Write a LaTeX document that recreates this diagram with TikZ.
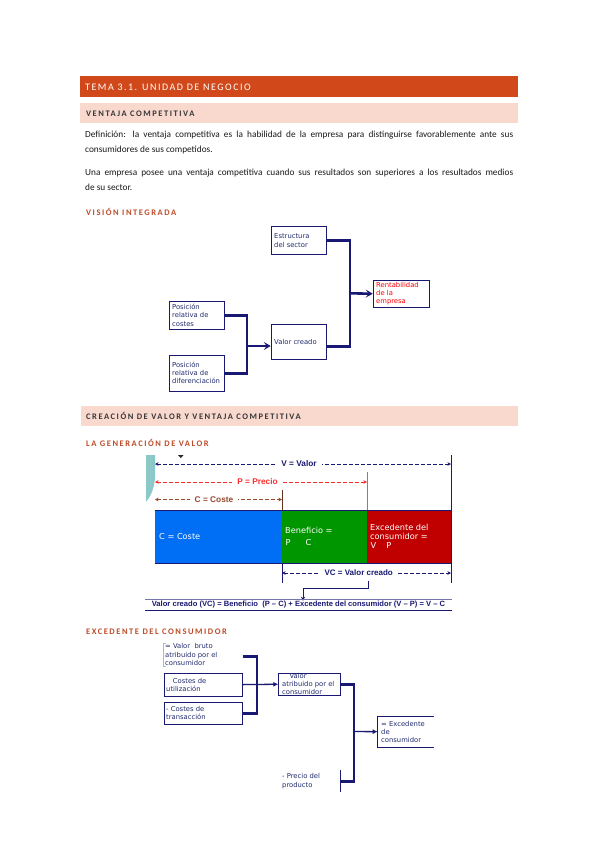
\documentclass[tikz,border=0pt]{standalone}
\usepackage{fontspec}
\setmainfont{Carlito}
\newfontfamily\hdfont[LetterSpace=18]{Carlito}
\newfontfamily\ttlfont[LetterSpace=15]{Carlito}
\newfontfamily\verd{DejaVu Sans}
\newfontfamily\arl{Liberation Sans}
\usetikzlibrary{arrows.meta}
\definecolor{titlebar}{RGB}{209,73,26}
\definecolor{pinkbar}{RGB}{249,216,206}
\definecolor{headc}{RGB}{190,75,40}
\definecolor{navy}{RGB}{25,25,115}
\definecolor{dtext}{RGB}{35,45,110}
\definecolor{boxblue}{RGB}{0,110,245}
\definecolor{boxgreen}{RGB}{0,150,0}
\definecolor{boxred}{RGB}{192,0,0}
\definecolor{brownc}{RGB}{150,72,42}
\definecolor{browndk}{RGB}{100,50,30}
\definecolor{redc}{RGB}{250,45,45}
\definecolor{tealc}{RGB}{140,200,200}
\definecolor{bodyc}{RGB}{25,25,25}
\definecolor{subc}{RGB}{55,55,55}
\tikzset{
  tl/.style={anchor=base west, inner sep=0pt},
  bar/.style={anchor=north west, inner sep=0pt, minimum width=438pt, minimum height=20pt},
  dbox/.style={anchor=north west, draw=navy, line width=0.8pt, inner sep=0pt},
  nobox/.style={anchor=north west, inner sep=0pt},
  dtxt/.style={tl, font=\verd\fontsize{6.8}{8}\selectfont, text=dtext},
  btxt/.style={tl, font=\verd\fontsize{8.2}{9}\selectfont, text=white},
  ltxt/.style={anchor=center, fill=white, inner xsep=5pt, inner ysep=1pt, font=\arl\bfseries\fontsize{8.3}{9}\selectfont},
  conn/.style={draw=navy, line width=2.6pt},
  chev/.style={-{Stealth[length=7pt,width=8pt,inset=3pt]}},
  dline/.style={dash pattern=on 3.5pt off 2.5pt, line width=0.9pt, {Stealth[length=3.5pt,width=3.5pt]}-{Stealth[length=3.5pt,width=3.5pt]}},
  hd/.style={tl, font=\hdfont\bfseries\fontsize{8.5}{10}\selectfont},
  body/.style={tl, font=\fontsize{9.3}{11}\selectfont, text=bodyc}
}
\begin{document}
\begin{tikzpicture}[x=1pt,y=-1pt]
\fill[white] (0,0) rectangle (599,848);
\useasboundingbox (0,0) rectangle (599,848);

% ---------- header ----------
\node[bar, fill=titlebar, minimum height=21pt] (tbar) at (80,76) {};
\node[tl, font=\ttlfont\fontsize{10}{11}\selectfont, text=white] (ttl) at (85,90.3) {TEMA 3.1. UNIDAD DE NEGOCIO};
\node[bar, fill=pinkbar] (pbar1) at (80,103) {};
\node[hd, text=subc] (h1) at (86,116.3) {VENTAJA COMPETITIVA};
\node[body] (d1) at (85,137) {\makebox[428pt][s]{Definición: la ventaja competitiva es la habilidad de la empresa para distinguirse favorablemente ante sus}};
\node[body] (d2) at (85,152) {consumidores de sus competidos.};
\node[body] (d3) at (85,175.5) {\makebox[428pt][s]{Una empresa posee una ventaja competitiva cuando sus resultados son superiores a los resultados medios}};
\node[body] (d4) at (85,190.5) {de su sector.};
\node[hd, text=headc] (h2) at (86,215) {VISIÓN INTEGRADA};

% ---------- diagram 1 ----------
\node[dbox, minimum width=55.3pt, minimum height=28pt] (estr) at (270.7,226) {};
\node[dbox, minimum width=56pt, minimum height=26.7pt] (rent) at (372.7,280) {};
\node[dbox, minimum width=55pt, minimum height=28pt] (cost) at (169,301) {};
\node[dbox, minimum width=55.3pt, minimum height=35pt] (valor) at (270.7,324) {};
\node[dbox, minimum width=55pt, minimum height=36pt] (dif) at (169,355) {};
\node[dtxt] (e1) at (274,238.2) {Estructura};
\node[dtxt] (e2) at (274,247.2) {del sector};
\node[dtxt, text=red] (r1) at (376,287.2) {Rentabilidad};
\node[dtxt, text=red] (r2) at (376,295.5) {de la};
\node[dtxt, text=red] (r3) at (376,303.9) {empresa};
\node[dtxt] (c1) at (172,309.5) {Posición};
\node[dtxt] (c2) at (172,317.9) {relativa de};
\node[dtxt] (c3) at (172,326.2) {costes};
\node[dtxt] (v1) at (274,344.9) {Valor creado};
\node[dtxt] (f1) at (172,367.2) {Posición};
\node[dtxt] (f2) at (172,375.5) {relativa de};
\node[dtxt] (f3) at (172,383.9) {diferenciación};
\coordinate (j1) at (247,346);
\coordinate (j2) at (350,293.3);
\draw[conn] (cost.east) -| (j1) |- (dif.east);
\draw[conn, chev] (j1) -- (j1 -| valor.west);
\draw[conn] ([yshift=-4.5pt]valor.east) -| (j2) |- (estr.east);
\draw[conn, chev] (j2) -- (rent.west);

% ---------- section 2 ----------
\node[bar, fill=pinkbar, minimum width=437pt] (pbar2) at (81,406) {};
\node[hd, text=subc] (h3) at (86,419.3) {CREACIÓN DE VALOR Y VENTAJA COMPETITIVA};
\node[hd, text=headc] (h4) at (86,446) {LA GENERACIÓN DE VALOR};

% teal sliver and small mark
\fill[tealc] (146,455) -- (155,455) -- (155,478) .. controls (154,490) and (150,497) .. (146,502) -- cycle;
\fill[black!85] (178,455) -- (183.5,455) -- (181,458) -- cycle;

% vertical guide lines
\coordinate (vtop) at (451,455);
\coordinate (vbot) at (451,583);
\draw[navy, line width=1pt] (vtop) -- (vbot);
\coordinate (ptop) at (367,472);
\coordinate (pbot) at (367,510);
\draw[red!70, line width=1pt] (ptop) -- (pbot);
\coordinate (ctop) at (282,490);
\coordinate (cbot) at (282,510);
\draw[browndk, line width=1pt] (ctop) -- (cbot);
\coordinate (vctop) at (282,563);
\coordinate (vcbot) at (282,583);
\draw[navy, line width=1pt] (vctop) -- (vcbot);

% boxes
\node[nobox, fill=boxblue, minimum width=127pt, minimum height=53pt] (cb) at (155,510) {};
\node[nobox, fill=boxgreen, minimum width=85pt, minimum height=53pt] (gb) at (282,510) {};
\node[nobox, fill=boxred, minimum width=84pt, minimum height=53pt] (rb) at (367,510) {};
\draw[navy, line width=0.8pt] (cb.north west) -- (rb.north east);
\draw[navy, line width=0.8pt] (cb.south west) -- (rb.south east);
\node[btxt] (cbt) at (159,539.3) {C = Coste};
\node[btxt] (gbt1) at (285,533.3) {Beneficio =};
\node[btxt] (gbt2) at (285.5,545.9) {P\hspace{15pt}C};
\node[btxt] (rbt1) at (370,530) {Excedente del};
\node[btxt] (rbt2) at (370,539.3) {consumidor =};
\node[btxt] (rbt3) at (370.5,548) {V\hspace{10pt}P};

% dashed measures
\coordinate (vl) at (155,464); \coordinate (vr) at (451,464);
\draw[dline, navy] (vl) -- (vr);
\node[ltxt, text=navy] (vt) at (299,464) {V = Valor};
\coordinate (pl) at (155,482); \coordinate (pr) at (367,482);
\draw[dline, redc] (pl) -- (pr);
\node[ltxt, text=redc] (pt) at (257.5,482) {P = Precio};
\coordinate (cl) at (155,499.5); \coordinate (cr) at (282,499.5);
\draw[dline, brownc] (cl) -- (cr);
\node[ltxt, text=brownc] (ct) at (214,499.5) {C = Coste};
\coordinate (vcl) at (282,573); \coordinate (vcr) at (451,573);
\draw[dline, navy] (vcl) -- (vcr);
\node[ltxt, text=navy, font=\arl\bfseries\fontsize{8}{9}\selectfont] (vct) at (358.7,573) {VC = Valor creado};

% formula
\coordinate (fa) at (368,580.5);
\coordinate (fb) at (303,588);
\node[anchor=center, inner sep=0pt, text=navy, font=\arl\bfseries\fontsize{7.6}{9}\selectfont] (form) at (298.5,604.5) {Valor creado (VC) = Beneficio \ (P – C) + Excedente del consumidor (V – P) = V – C};
\draw[navy, line width=1pt, -{Stealth[length=4pt,width=4pt]}] (fa) |- (fb) -- (fb |- form.north);
\coordinate (ul1) at (145,599); \coordinate (ur1) at (452,599);
\coordinate (ul2) at (145,610.5); \coordinate (ur2) at (452,610.5);
\draw[navy!60, line width=0.7pt] (ul1) -- (ur1);
\draw[navy, line width=0.8pt] (ul2) -- (ur2);

% ---------- section 3 ----------
\node[hd, text=headc] (h5) at (86,634.5) {EXCEDENTE DEL CONSUMIDOR};
\node[nobox, minimum width=79pt, minimum height=26pt] (b1) at (163.3,643) {};
\draw[tealc, line width=1pt] ([xshift=3pt]b1.north west) -- (b1.north west) -- ([yshift=3pt]b1.south west) -- ([xshift=3pt,yshift=3pt]b1.south west);
\node[dbox, minimum width=78.3pt, minimum height=23pt] (b2) at (164,672.7) {};
\node[dbox, minimum width=78.3pt, minimum height=22.3pt] (b3) at (164,701.7) {};
\node[dbox, minimum width=61.7pt, minimum height=22.3pt] (b4) at (278.3,672.7) {};
\node[nobox, minimum width=55.6pt, minimum height=31pt] (b5) at (377.7,716) {};
\draw[navy, line width=0.8pt] (b5.north east) -- (b5.north west) -- (b5.south west) -- (b5.south east);
\node[nobox, minimum width=61.7pt, minimum height=22pt] (b6) at (278.3,770) {};
\draw[navy, line width=0.8pt] (b6.north east) -- (b6.south east);

\node[dtxt] (t11) at (165,648.9) {= Valor \ bruto};
\node[dtxt] (t12) at (165,657.2) {atribuido por el};
\node[dtxt] (t13) at (165,665.2) {consumidor};
\node[dtxt] (t21) at (172.7,683.2) {Costes de};
\node[dtxt] (t22) at (166,691.2) {utilización};
\node[dtxt] (t31) at (166,711.2) {- Costes de};
\node[dtxt] (t32) at (166,719.5) {transacción};
\node[dtxt] (t41) at (289.3,678.5) {Valor};
\node[dtxt] (t42) at (282,686.5) {atribuido por el};
\node[dtxt] (t43) at (282,694.9) {consumidor};
\node[dtxt] (t51) at (381,726.5) {= Excedente};
\node[dtxt] (t52) at (381,734.5) {de};
\node[dtxt] (t53) at (381,742.5) {consumidor};
\node[dtxt] (t61) at (282,778.9) {- Precio del};
\node[dtxt] (t62) at (282,787.9) {producto};

\coordinate (j3) at (257,683.8);
\coordinate (j4) at (354,731.5);
\draw[conn, line width=2.8pt] (b1.east) -| (j3) |- (b3.east);
\draw[navy, line width=1.3pt, -{Latex[length=5pt,width=5pt]}] (b2.east) -- (b4.west);
\draw[conn, line width=2.8pt] (b4.east) -| (j4) |- (b6.east);
\draw[navy, line width=1.3pt, -{Latex[length=5pt,width=5pt]}] (j4) -- (b5.west);
\end{tikzpicture}
\end{document}
